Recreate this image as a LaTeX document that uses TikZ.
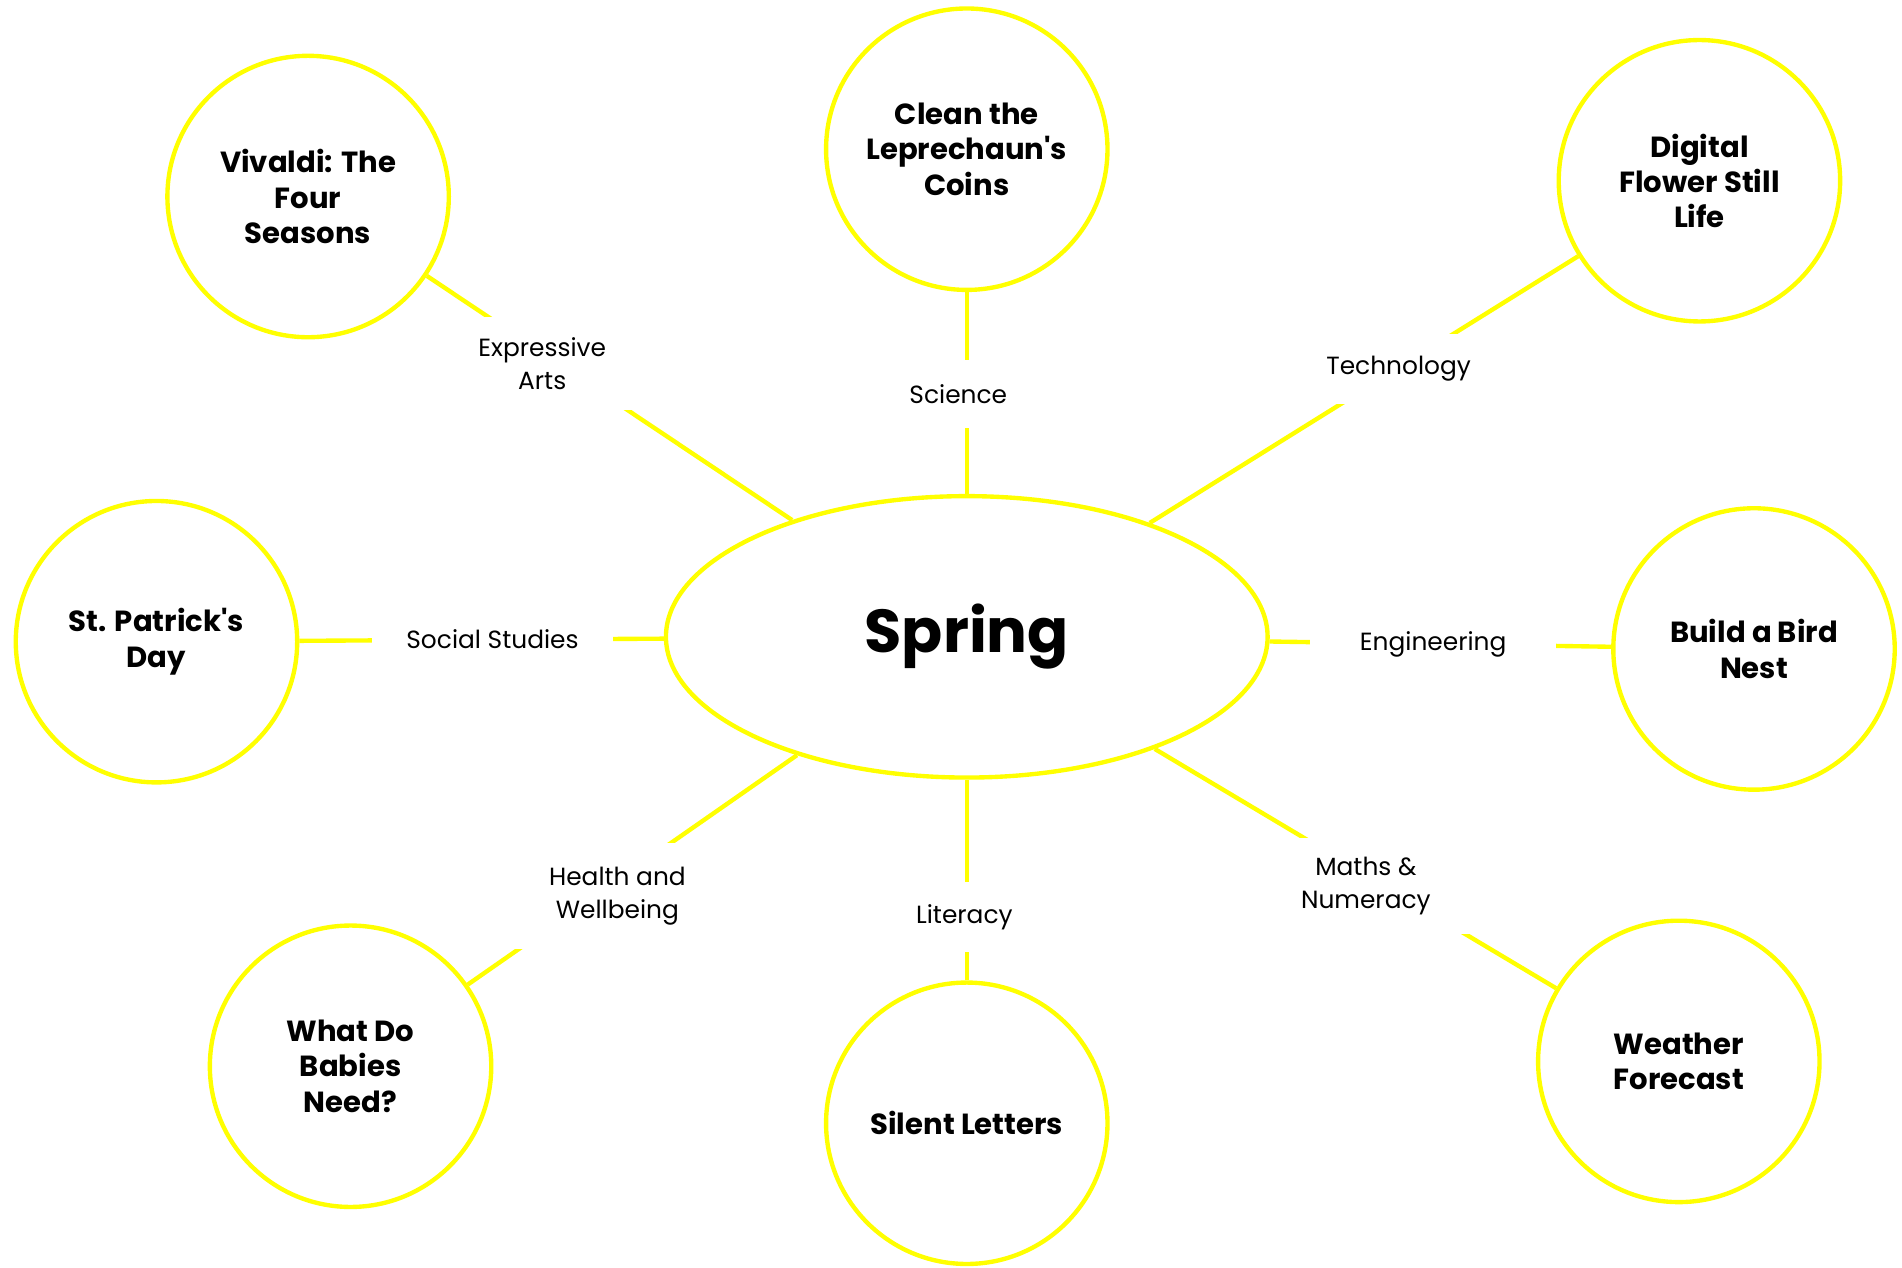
\documentclass[tikz,border=0pt]{standalone}
\usepackage{fontspec}
\setmainfont{Poppins}[Ligatures=TeXOff]
\usetikzlibrary{shapes.geometric}
\definecolor{sunny}{RGB}{255,255,0}
\tikzset{
  topic/.style={circle, draw=sunny, line width=3.6pt, fill=white, minimum size=232pt, inner sep=0pt,
    align=center, font=\fontsize{24}{29}\selectfont\bfseries},
  hub/.style={ellipse, draw=sunny, line width=3.6pt, fill=white, minimum width=496pt, minimum height=232pt,
    inner sep=0pt, font=\fontsize{50}{56}\selectfont\bfseries},
  conn/.style={draw=sunny, line width=3.6pt},
  subj/.style={fill=white, inner sep=0pt, minimum width=200pt, align=center,
    font=\fontsize{20.5}{27}\selectfont}
}
\begin{document}
\begin{tikzpicture}[x=1pt,y=-1pt]
\useasboundingbox (0,0) rectangle (1568,1045);
\fill[white] (0,0) rectangle (1568,1045);
% hub and topics
\node[hub] (spring) at (797,525) {Spring};
\node[topic] (viv) at (254,162) {Vivaldi: The\\Four\\Seasons};
\node[topic] (coins) at (797,123) {Clean the\\Leprechaun's\\Coins};
\node[topic] (flower) at (1401,149) {Digital\\Flower Still\\Life};
\node[topic] (patrick) at (129,529) {St. Patrick's\\Day};
\node[topic] (nest) at (1446,535) {Build a Bird\\Nest};
\node[topic] (babies) at (289,879) {What Do\\Babies\\Need?};
\node[topic] (silent) at (797,926) {Silent Letters};
\node[topic] (weather) at (1384,875) {Weather\\Forecast};
% connectors
\draw[conn] (viv) -- (spring);
\draw[conn] (coins) -- (spring);
\draw[conn] (flower) -- (spring);
\draw[conn] (patrick) -- (spring);
\draw[conn] (nest) -- (spring);
\draw[conn] (babies) -- (spring);
\draw[conn] (silent) -- (spring);
\draw[conn] (weather) -- (spring);
% subject labels
\node[subj, minimum height=77pt] (lexp) at (447,299.5) {Expressive\\Arts};
\node[subj, minimum height=56pt] (lsci) at (790,325) {Science};
\node[subj, minimum height=58pt] (ltech) at (1153,304) {Technology};
\node[subj, minimum width=198pt, minimum height=56pt] (lsoc) at (406,527) {Social Studies};
\node[subj, minimum width=203pt, minimum height=56pt] (leng) at (1181.5,531) {Engineering};
\node[subj, minimum height=87pt] (lhealth) at (509,738.5) {Health and\\Wellbeing};
\node[subj, minimum height=58pt] (llit) at (795,756) {Literacy};
\node[subj, minimum height=79pt] (lmaths) at (1126,730.5) {Maths \&\\Numeracy};
\end{tikzpicture}
\end{document}
